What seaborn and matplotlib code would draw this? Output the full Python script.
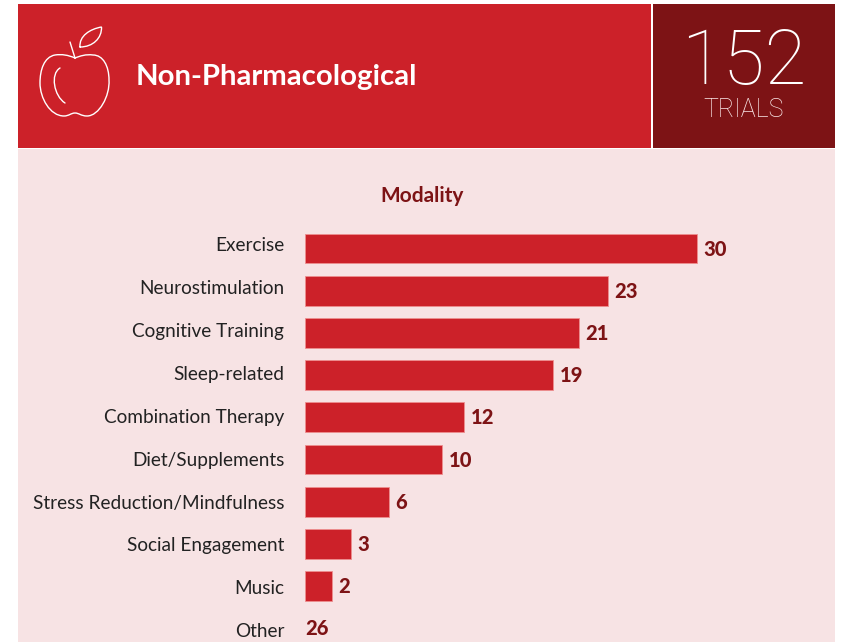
"""Non-pharmacological trials by modality, horizontal bar panel."""

import matplotlib
matplotlib.use("Agg")
import matplotlib.pyplot as plt
import pandas as pd
import seaborn as sns
from matplotlib.patches import PathPatch, Rectangle
from matplotlib.path import Path

categories = ['Exercise', 'Neurostimulation', 'Cognitive Training', 'Sleep-related',
              'Combination Therapy', 'Diet/Supplements',
              'Stress Reduction/Mindfulness', 'Social Engagement', 'Music', 'Other']
# printed counts
counts = [30, 23, 21, 19, 12, 10, 6, 3, 2, 26]
# the drawn bars are not quite to scale with the counts, and Other has no bar
bar_lengths = [30, 23.2, 21, 19, 12.2, 10.5, 6.4, 3.5, 2.1, 0]

title = 'Non-Pharmacological'
total = '152'
total_label = 'TRIALS'
subtitle = 'Modality'

RED = '#CC2129'
DARK = '#7D1315'
PALE = '#F7E3E4'
BAR_EDGE = '#EE8F8F'

sns.set_theme(style='white')
plt.rcParams['font.family'] = ['Lato', 'DejaVu Sans']

fig = plt.figure(figsize=(8.41, 6.42), dpi=100, facecolor='white')

# Overlay in pixel coordinates for the header blocks and the icon
bg = fig.add_axes([0, 0, 1, 1], zorder=0)
bg.set_xlim(0, 841)
bg.set_ylim(642, 0)
bg.axis('off')
bg.add_patch(Rectangle((18, 149), 817, 493, color=PALE, lw=0))
bg.add_patch(Rectangle((18, 4), 633, 144, color=RED, lw=0))
bg.add_patch(Rectangle((653, 4), 182, 144, color=DARK, lw=0))

# Apple icon
icon_paths = [
    # body
    ([(75, 58), (68, 55), (62, 54), (55, 55), (44, 57), (40, 70), (40, 83),
      (40, 98), (50, 116), (64, 116), (69, 116), (71, 113), (75, 113),
      (79, 113), (81, 116), (87, 116), (99, 116), (110, 96), (109, 80),
      (109, 66), (103, 55), (93, 55), (86, 54), (80, 56), (75, 58)],
     [Path.MOVETO] + [Path.CURVE4] * 24),
    # stem
    ([(70, 42), (75, 58)], [Path.MOVETO, Path.LINETO]),
    # leaf
    ([(80, 47), (79, 36), (90, 29), (101.5, 27), (102, 38), (93, 47), (80, 47)],
     [Path.MOVETO] + [Path.CURVE4] * 6),
    # highlight
    ([(60, 68), (50, 74), (54, 96), (65, 103)],
     [Path.MOVETO] + [Path.CURVE4] * 3),
]
for verts, codes in icon_paths:
    bg.add_patch(PathPatch(Path(verts, codes), fill=False, edgecolor='white',
                           lw=1.0, capstyle='round'))

bg.text(136, 77, title, color='white', fontsize=21.2, fontweight='bold',
        ha='left', va='center')
bg.text(744, 63, total, color='white', fontsize=55, fontweight='light',
        family='Roboto', ha='center', va='center')
bg.text(744, 110, total_label, color='#FBE9E9', fontsize=18, fontweight='light',
        family='Roboto', ha='center', va='center')
bg.text(422, 196, subtitle, color=DARK, fontsize=15, fontweight='bold',
        ha='center', va='center')

# Bars
ax = fig.add_axes([305 / 841, 0, (835 - 305) / 841, (642 - 149) / 642], zorder=1)
ax.patch.set_alpha(0)
df = pd.DataFrame({'modality': categories, 'length': bar_lengths})
sns.barplot(data=df, x='length', y='modality', order=categories, orient='h',
            color=RED, saturation=1, width=0.71, ax=ax)
for bar, length in zip(ax.patches, bar_lengths):
    if length > 0:
        bar.set_edgecolor(BAR_EDGE)
        bar.set_linewidth(0.6)
    else:
        bar.set_visible(False)

ax.set_xlim(0, 40.55)
ax.set_ylim(9.325, -2.358)
ax.set_xlabel('')
ax.set_ylabel('')
ax.set_xticks([])
sns.despine(ax=ax, left=True, bottom=True)
ax.tick_params(axis='y', length=0, pad=15)
ax.set_yticks([i * 1.016 - 0.1 for i in range(len(categories))])
ax.set_yticklabels(categories, fontsize=13.7, color='#222222')

for i, (n, length) in enumerate(zip(counts, bar_lengths)):
    offset = 4.5 if length > 0 else 0.5
    ax.annotate(str(n), (length, i), xytext=(offset, -0.5), textcoords='offset points',
                color=DARK, fontsize=14.5, fontweight='black', ha='left', va='center')

fig.savefig('out.png', dpi=100)
